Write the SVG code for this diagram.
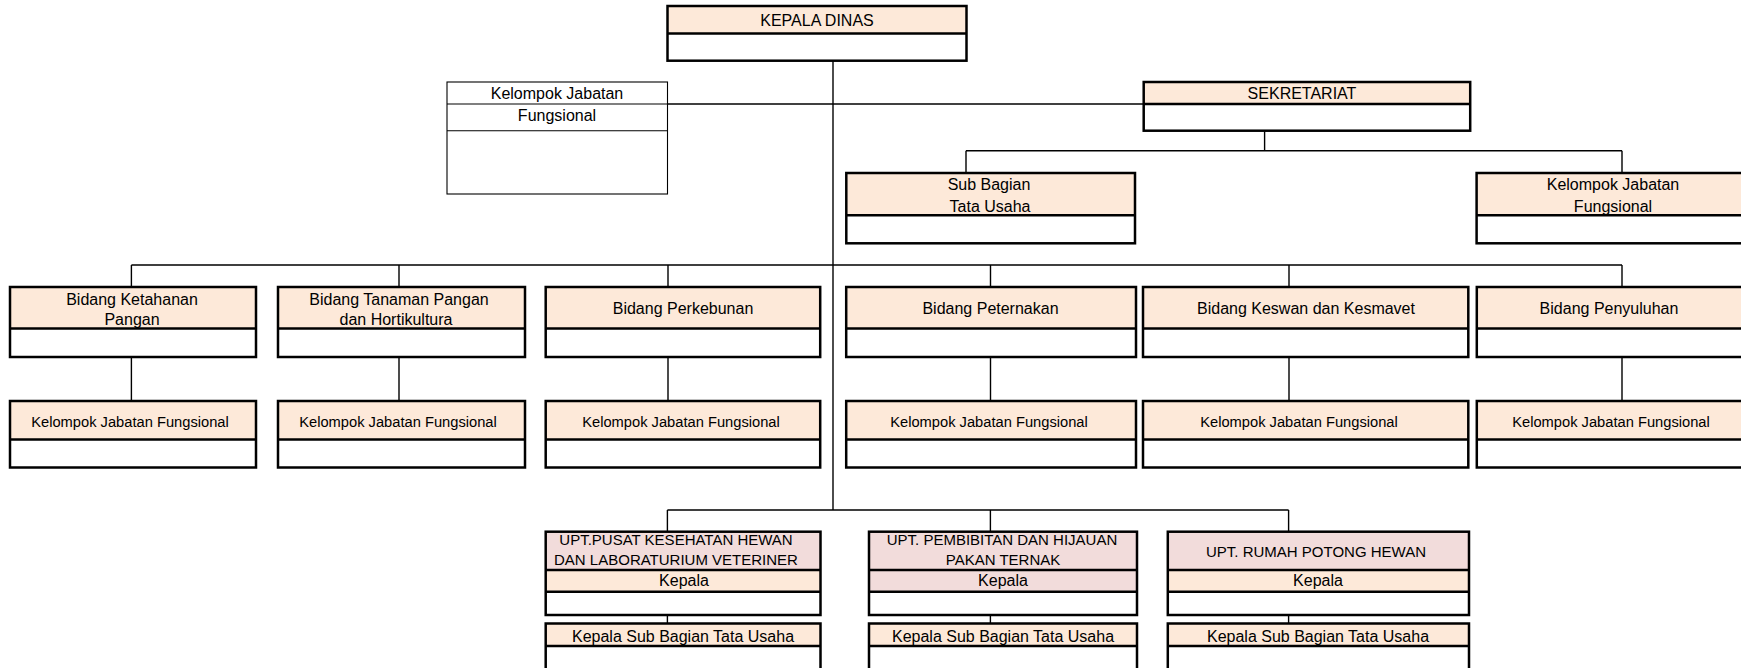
<svg xmlns="http://www.w3.org/2000/svg" width="1741" height="668" viewBox="0 0 1741 668">
<style>
text{font-family:"Liberation Sans",Arial,sans-serif;font-size:16px;fill:#000;text-anchor:middle}
.sm{font-size:14.7px}
.up{font-size:15px}
.peach{fill:#FDE9D9}
.pink{fill:#F2DCDB}
.white{fill:#FFFFFF}
.ol{fill:none;stroke:#000;stroke-width:2.5}
.thin{fill:none;stroke:#000;stroke-width:1.1}
.ln{fill:none;stroke:#000;stroke-width:1.4}
</style>
<rect width="1741" height="668" fill="#fff"/>

<g id="connectors">
<path class="ln" d="M833,61 V510"/>
<path class="ln" d="M667.5,104 H1144"/>
<path class="ln" d="M1264.6,131 V150.7 M966,150.7 H1622 M966,150.7 V173 M1622,150.7 V173"/>
<path class="ln" d="M131.4,265 H1622 M131.4,265 V287 M399,265 V287 M668,265 V287 M990.5,265 V287 M1289,265 V287 M1622,265 V287"/>
<path class="ln" d="M131.4,357 V401 M399,357 V401 M668,357 V401 M990.5,357 V401 M1289,357 V401 M1622,357 V401"/>
<path class="ln" d="M667.4,510 H1288.6 M667.4,510 V532 M990.4,510 V532 M1288.6,510 V532"/>
<path class="ln" d="M667.4,615 V623.5 M990.4,615 V623.5 M1288.6,615 V623.5"/>
</g>

<g id="kepala-dinas">
<rect class="peach" x="667.5" y="6" width="299" height="27.5"/>
<rect class="ol" x="667.5" y="6" width="299" height="54.7"/>
<line class="ol" x1="667.5" y1="33.5" x2="966.5" y2="33.5"/>
<text x="817" y="26">KEPALA DINAS</text>
</g>

<g id="kjf-kepala">
<rect class="thin" x="447" y="82" width="220.5" height="112"/>
<line class="thin" x1="447" y1="104" x2="667.5" y2="104"/>
<line class="thin" x1="447" y1="130.7" x2="667.5" y2="130.7"/>
<text x="557" y="99">Kelompok Jabatan</text>
<text x="557" y="120.5">Fungsional</text>
</g>

<g id="sekretariat">
<rect class="peach" x="1143.7" y="82" width="326.5" height="22"/>
<rect class="ol" x="1143.7" y="82" width="326.5" height="48.7"/>
<line class="ol" x1="1143.7" y1="104" x2="1470.2" y2="104"/>
<text x="1302" y="99">SEKRETARIAT</text>
</g>

<g id="subbag-tu">
<rect class="peach" x="846.3" y="173" width="288.7" height="42.3"/>
<rect class="ol" x="846.3" y="173" width="288.7" height="70.3"/>
<line class="ol" x1="846.3" y1="215.3" x2="1135" y2="215.3"/>
<text x="989" y="189.5">Sub Bagian</text>
<text x="990" y="211.7">Tata Usaha</text>
</g>

<g id="kjf-sekretariat">
<rect class="peach" x="1476.6" y="173" width="300" height="42.3"/>
<rect class="ol" x="1476.6" y="173" width="300" height="70.3"/>
<line class="ol" x1="1476.6" y1="215.3" x2="1776.6" y2="215.3"/>
<text x="1613" y="189.5">Kelompok Jabatan</text>
<text x="1613" y="211.7">Fungsional</text>
</g>

<g id="bidang-ketahanan">
<rect class="peach" x="10" y="287" width="246" height="41.5"/>
<rect class="ol" x="10" y="287" width="246" height="70"/>
<line class="ol" x1="10" y1="328.5" x2="256" y2="328.5"/>
<text x="132" y="305">Bidang Ketahanan</text>
<text x="132" y="324.5">Pangan</text>
</g>
<g id="bidang-tanaman">
<rect class="peach" x="278" y="287" width="247" height="41.5"/>
<rect class="ol" x="278" y="287" width="247" height="70"/>
<line class="ol" x1="278" y1="328.5" x2="525" y2="328.5"/>
<text x="399" y="305">Bidang Tanaman Pangan</text>
<text x="396" y="324.5">dan Hortikultura</text>
</g>
<g id="bidang-perkebunan">
<rect class="peach" x="545.7" y="287" width="274.5" height="41.5"/>
<rect class="ol" x="545.7" y="287" width="274.5" height="70"/>
<line class="ol" x1="545.7" y1="328.5" x2="820.2" y2="328.5"/>
<text x="683" y="314">Bidang Perkebunan</text>
</g>
<g id="bidang-peternakan">
<rect class="peach" x="846.2" y="287" width="289.8" height="41.5"/>
<rect class="ol" x="846.2" y="287" width="289.8" height="70"/>
<line class="ol" x1="846.2" y1="328.5" x2="1136" y2="328.5"/>
<text x="990.5" y="314">Bidang Peternakan</text>
</g>
<g id="bidang-keswan">
<rect class="peach" x="1143" y="287" width="325.3" height="41.5"/>
<rect class="ol" x="1143" y="287" width="325.3" height="70"/>
<line class="ol" x1="1143" y1="328.5" x2="1468.3" y2="328.5"/>
<text x="1306" y="314">Bidang Keswan dan Kesmavet</text>
</g>
<g id="bidang-penyuluhan">
<rect class="peach" x="1476.8" y="287" width="300" height="41.5"/>
<rect class="ol" x="1476.8" y="287" width="300" height="70"/>
<line class="ol" x1="1476.8" y1="328.5" x2="1776.8" y2="328.5"/>
<text x="1609" y="314">Bidang Penyuluhan</text>
</g>

<g id="kjf-1">
<rect class="peach" x="10" y="401" width="246" height="38.5"/>
<rect class="ol" x="10" y="401" width="246" height="66.5"/>
<line class="ol" x1="10" y1="439.5" x2="256" y2="439.5"/>
<text class="sm" x="130" y="426.5">Kelompok Jabatan Fungsional</text>
</g>
<g id="kjf-2">
<rect class="peach" x="278" y="401" width="247" height="38.5"/>
<rect class="ol" x="278" y="401" width="247" height="66.5"/>
<line class="ol" x1="278" y1="439.5" x2="525" y2="439.5"/>
<text class="sm" x="398" y="426.5">Kelompok Jabatan Fungsional</text>
</g>
<g id="kjf-3">
<rect class="peach" x="545.7" y="401" width="274.5" height="38.5"/>
<rect class="ol" x="545.7" y="401" width="274.5" height="66.5"/>
<line class="ol" x1="545.7" y1="439.5" x2="820.2" y2="439.5"/>
<text class="sm" x="681" y="426.5">Kelompok Jabatan Fungsional</text>
</g>
<g id="kjf-4">
<rect class="peach" x="846.2" y="401" width="289.8" height="38.5"/>
<rect class="ol" x="846.2" y="401" width="289.8" height="66.5"/>
<line class="ol" x1="846.2" y1="439.5" x2="1136" y2="439.5"/>
<text class="sm" x="989" y="426.5">Kelompok Jabatan Fungsional</text>
</g>
<g id="kjf-5">
<rect class="peach" x="1143" y="401" width="325.3" height="38.5"/>
<rect class="ol" x="1143" y="401" width="325.3" height="66.5"/>
<line class="ol" x1="1143" y1="439.5" x2="1468.3" y2="439.5"/>
<text class="sm" x="1299" y="426.5">Kelompok Jabatan Fungsional</text>
</g>
<g id="kjf-6">
<rect class="peach" x="1476.8" y="401" width="300" height="38.5"/>
<rect class="ol" x="1476.8" y="401" width="300" height="66.5"/>
<line class="ol" x1="1476.8" y1="439.5" x2="1776.8" y2="439.5"/>
<text class="sm" x="1611" y="426.5">Kelompok Jabatan Fungsional</text>
</g>

<g id="upt-puskeswan">
<rect class="pink" x="545.7" y="531.7" width="274.8" height="38.3"/>
<rect class="peach" x="545.7" y="570" width="274.8" height="21.7"/>
<rect class="ol" x="545.7" y="531.7" width="274.8" height="83.3"/>
<line class="ol" x1="545.7" y1="570" x2="820.5" y2="570"/>
<line class="ol" x1="545.7" y1="591.7" x2="820.5" y2="591.7"/>
<text class="up" x="676" y="545">UPT.PUSAT KESEHATAN HEWAN</text>
<text class="up" x="676" y="565">DAN LABORATURIUM VETERINER</text>
<text x="684" y="586">Kepala</text>
</g>
<g id="upt-pembibitan">
<rect class="pink" x="869" y="531.7" width="268" height="60"/>
<rect class="ol" x="869" y="531.7" width="268" height="83.3"/>
<line class="ol" x1="869" y1="570" x2="1137" y2="570"/>
<line class="ol" x1="869" y1="591.7" x2="1137" y2="591.7"/>
<text class="up" x="1002" y="545">UPT. PEMBIBITAN DAN HIJAUAN</text>
<text class="up" x="1003" y="565">PAKAN TERNAK</text>
<text x="1003" y="586">Kepala</text>
</g>
<g id="upt-rph">
<rect class="pink" x="1167.8" y="531.7" width="301.2" height="38.3"/>
<rect class="peach" x="1167.8" y="570" width="301.2" height="21.7"/>
<rect class="ol" x="1167.8" y="531.7" width="301.2" height="83.3"/>
<line class="ol" x1="1167.8" y1="570" x2="1469" y2="570"/>
<line class="ol" x1="1167.8" y1="591.7" x2="1469" y2="591.7"/>
<text class="up" x="1316" y="556.5">UPT. RUMAH POTONG HEWAN</text>
<text x="1318" y="586">Kepala</text>
</g>

<g id="ksbtu-1">
<rect class="peach" x="545.7" y="623.5" width="274.8" height="22.5"/>
<rect class="ol" x="545.7" y="623.5" width="274.8" height="60"/>
<line class="ol" x1="545.7" y1="646" x2="820.5" y2="646"/>
<text x="683" y="641.5">Kepala Sub Bagian Tata Usaha</text>
</g>
<g id="ksbtu-2">
<rect class="peach" x="869" y="623.5" width="268" height="22.5"/>
<rect class="ol" x="869" y="623.5" width="268" height="60"/>
<line class="ol" x1="869" y1="646" x2="1137" y2="646"/>
<text x="1003" y="641.5">Kepala Sub Bagian Tata Usaha</text>
</g>
<g id="ksbtu-3">
<rect class="peach" x="1167.8" y="623.5" width="301.2" height="22.5"/>
<rect class="ol" x="1167.8" y="623.5" width="301.2" height="60"/>
<line class="ol" x1="1167.8" y1="646" x2="1469" y2="646"/>
<text x="1318" y="641.5">Kepala Sub Bagian Tata Usaha</text>
</g>
</svg>
